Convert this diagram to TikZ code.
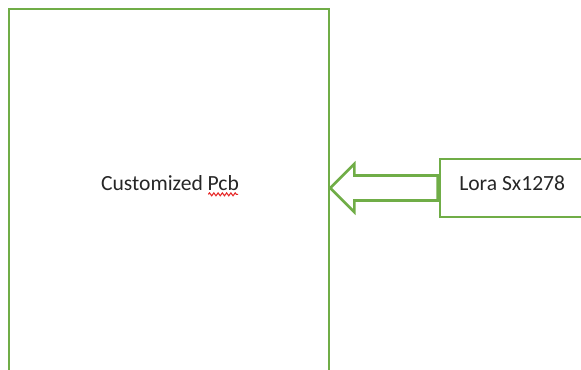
\documentclass[tikz,border=0pt]{standalone}
\usepackage{fontspec}
\setmainfont{Carlito}
\usetikzlibrary{positioning,calc,decorations.pathmorphing}
\definecolor{boxgreen}{RGB}{112,173,71}
\definecolor{textgray}{RGB}{38,38,38}
\definecolor{spellred}{RGB}{230,40,40}

\begin{document}
\begin{tikzpicture}[
    x=0.75pt,y=-0.75pt,
    greenbox/.style={draw=boxgreen,line width=1.9pt,fill=none},
    blockarrow/.style={draw=boxgreen,line width=1.9pt,line join=miter},
    boxtext/.style={draw=none,text=textgray,font=\fontsize{16.2}{19.5}\selectfont,inner sep=0pt},
]
\useasboundingbox (0,0) rectangle (581,370);
\clip (0,0) rectangle (581,370);

% Customized PCB
\node[greenbox,minimum width=240pt,minimum height=294pt] (pcb) at (169,205) {};
\node[boxtext] (pcblabel) at (170,183) {Customized Pcb};
\draw[spellred,line width=0.8pt,decorate,decoration={snake,amplitude=1.1pt,segment length=3.2pt}] ($(pcblabel.south east)+(-31,3.5)$) -- ($(pcblabel.south east)+(-1,3.5)$);

% Lora module
\node[greenbox,minimum width=120pt,minimum height=43.5pt] (lora) at (520,188) {};
\node[boxtext,anchor=west] (loralabel) at (459,183) {Lora Sx1278};

% Block arrow
\coordinate (tip) at (pcb.east |- lora.west);
\draw[blockarrow] (tip) -- ++(24,-24) -- ++(0,11.5) -- ($(lora.west)+(-1,-12.5)$) -- ($(lora.west)+(-1,12.5)$) -- ($(tip)+(24,12.5)$) -- ++(0,11.5) -- cycle;

\end{tikzpicture}
\end{document}
